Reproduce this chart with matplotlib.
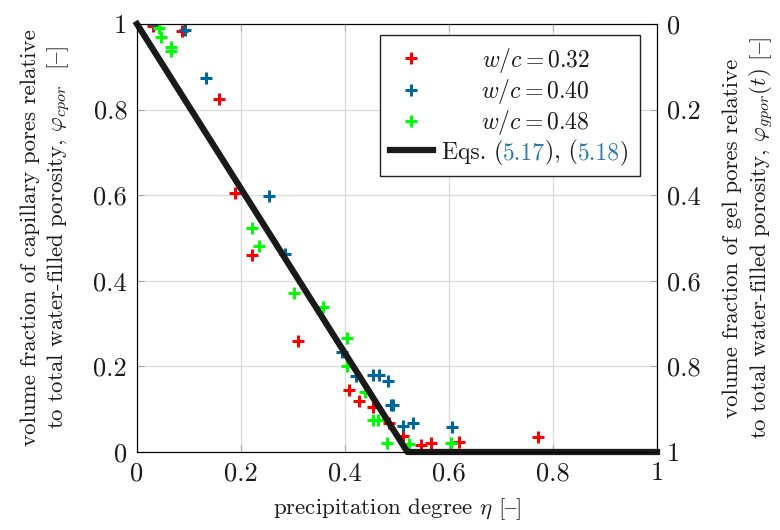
import matplotlib
matplotlib.use("Agg")
import matplotlib.pyplot as plt

plt.rcParams["font.family"] = ["cmr10", "DejaVu Serif"]
plt.rcParams["mathtext.fontset"] = "cm"
plt.rcParams["axes.formatter.use_mathtext"] = True

# measured points (precipitation degree, capillary pore fraction)
eta_032 = [0.031, 0.087, 0.158, 0.188, 0.221, 0.31, 0.408, 0.427, 0.453, 0.485,
           0.512, 0.546, 0.565, 0.619, 0.771]
phi_032 = [0.996, 0.983, 0.825, 0.605, 0.46, 0.259, 0.145, 0.118, 0.104, 0.068,
           0.038, 0.017, 0.02, 0.023, 0.035]
eta_040 = [0.032, 0.092, 0.133, 0.254, 0.285, 0.394, 0.422, 0.454, 0.466, 0.482,
           0.488, 0.493, 0.512, 0.531, 0.606]
phi_040 = [1.0, 0.986, 0.874, 0.598, 0.463, 0.234, 0.177, 0.18, 0.18, 0.165,
           0.109, 0.109, 0.061, 0.067, 0.058]
eta_048 = [0.042, 0.046, 0.065, 0.065, 0.221, 0.235, 0.302, 0.358, 0.403, 0.403,
           0.438, 0.454, 0.464, 0.481, 0.523, 0.604]
phi_048 = [0.99, 0.969, 0.947, 0.938, 0.523, 0.481, 0.371, 0.339, 0.266, 0.2,
           0.141, 0.074, 0.074, 0.02, 0.018, 0.02]

# model curve, Eqs. (5.17), (5.18)
eta_model = [0.0, 0.52, 1.0]
phi_model = [1.0, 0.0, 0.0]

ticks = [0, 0.2, 0.4, 0.6, 0.8, 1]
tick_labels = ["0", "0.2", "0.4", "0.6", "0.8", "1"]

TICK_FS = 19
LABEL_FS = 16.5
LEG_FS = 17
INK = "#1a1a1a"
EQ_BLUE = "#2a7ab0"
DASH = "{"   # en dash sits at this code point in the cmr10 (OT1) font

fig = plt.figure(figsize=(7.8, 5.3), dpi=100)
ax = fig.add_axes([0.1756, 0.1472, 0.6667, 0.8075])

mk = dict(marker="+", linestyle="none", markersize=9, markeredgewidth=2.2)
ax.plot(eta_032, phi_032, color="#ff0000", label=r"$w/c=0.32$", **mk)
ax.plot(eta_040, phi_040, color="#00669e", label=r"$w/c=0.40$", **mk)
ax.plot(eta_048, phi_048, color="#00ff00", label=r"$w/c=0.48$", **mk)
ax.plot(eta_model, phi_model, color=INK, linewidth=4.5,
        label="Eqs. (5.17), (5.18)", clip_on=False, zorder=5)

ax.set_xlim(0, 1)
ax.set_ylim(0, 1)
ax.set_xticks(ticks)
ax.set_xticklabels(tick_labels)
ax.set_yticks(ticks)
ax.set_yticklabels(tick_labels)
ax.grid(True, color="#dcdcdc", linewidth=1)
ax.tick_params(direction="in", labelsize=TICK_FS, length=5, color="#aaaaaa",
               top=True, pad=7, labelcolor=INK)
for s in ax.spines.values():
    s.set_color("#222222")

ax.set_xlabel(r"precipitation degree $\eta$ [" + DASH + "]", fontsize=LABEL_FS,
              labelpad=8, color=INK)
ax.set_ylabel("volume fraction of capillary pores relative\n"
              r"to total water-filled porosity, $\varphi_{cpor}$  [" + DASH + "]",
              fontsize=LABEL_FS, labelpad=15, linespacing=1.3, color=INK)

ax2 = ax.twinx()
ax2.set_ylim(1, 0)
ax2.set_yticks(ticks)
ax2.set_yticklabels(tick_labels)
ax2.tick_params(direction="in", labelsize=TICK_FS, length=5, color="#aaaaaa",
                pad=7, labelcolor=INK)
ax2.set_ylabel("volume fraction of gel pores relative\n"
               r"to total water-filled porosity, $\varphi_{gpor}(t)$ [" + DASH + "]",
               fontsize=LABEL_FS, labelpad=16, linespacing=1.3, color=INK)

leg = ax.legend(loc="upper right", bbox_to_anchor=(0.967, 0.974),
                borderaxespad=0, fontsize=LEG_FS, frameon=True, fancybox=False,
                edgecolor="#222222", framealpha=1, borderpad=0.45,
                handlelength=1.8, handletextpad=0.4, labelspacing=0.1)
leg.get_frame().set_linewidth(1)
leg.set_zorder(10)

# centre the w/c labels over the column and colour the equation numbers
fig.canvas.draw()
texts = leg.get_texts()
eq_bb = texts[3].get_window_extent()
xc = 0.5 * (eq_bb.x0 + eq_bb.x1)
for t in texts[:3]:
    bb = t.get_window_extent()
    t.set_alpha(0)
    ax2.annotate(t.get_text(), xy=(xc, bb.y0), xycoords="figure pixels",
                 ha="center", va="bottom", fontsize=LEG_FS, color=INK, zorder=20)
texts[3].set_alpha(0)
pieces = [("Eqs. (", INK), ("5.17", EQ_BLUE), ("), (", INK),
          ("5.18", EQ_BLUE), (")", INK)]
prev = ax2.annotate(pieces[0][0], xy=(eq_bb.x0, eq_bb.y0),
                    xycoords="figure pixels", ha="left", va="bottom",
                    fontsize=LEG_FS, color=pieces[0][1], zorder=20)
for s, c in pieces[1:]:
    prev = ax2.annotate(s, xy=(1, 0), xycoords=prev, ha="left", va="bottom",
                        fontsize=LEG_FS, color=c, zorder=20)

fig.savefig("out.png", dpi=100)
